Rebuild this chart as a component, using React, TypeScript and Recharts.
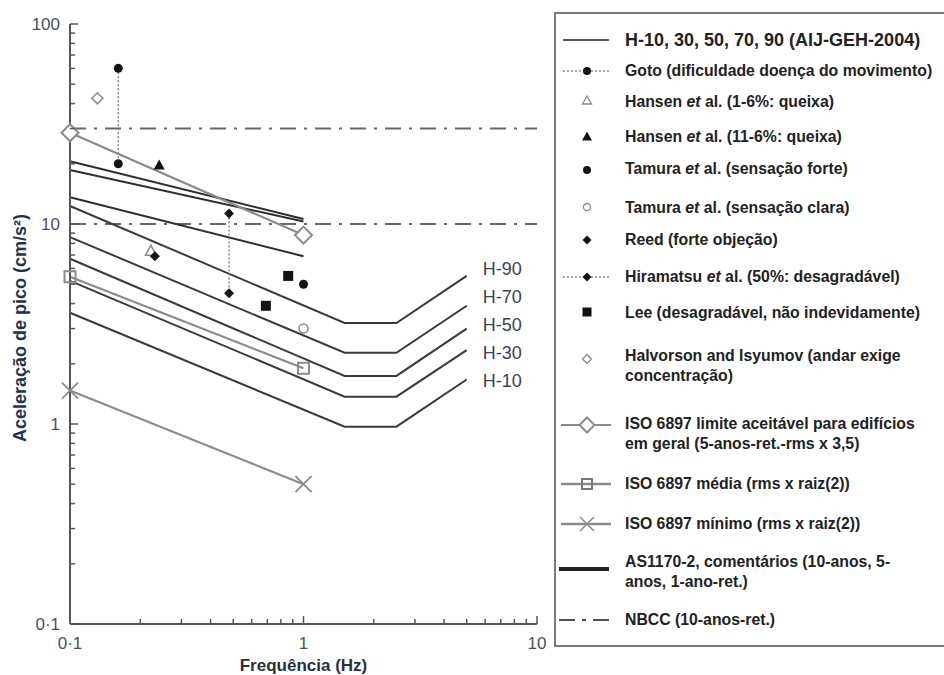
import {
  ComposedChart,
  Legend,
  Line,
  ReferenceLine,
  Scatter,
  XAxis,
  YAxis,
} from "recharts";

// AIJ-GEH-2004 curves: frequency breakpoints (Hz) and peak acceleration (cm/s²)
const hFreq = [0.1, 1.5, 2.5, 5];
const h10 = [3.6, 0.97, 0.97, 1.67];
const h30 = [5.2, 1.37, 1.37, 2.34];
const h50 = [6.7, 1.74, 1.74, 3.0];
const h70 = [8.6, 2.27, 2.27, 3.9];
const h90 = [12.3, 3.2, 3.2, 5.5];
const hNames = ["H-10", "H-30", "H-50", "H-70", "H-90"];

// straight criteria between 0.1 and 1 Hz
const shortFreq = [0.1, 1];
const as1170Ten = [20.6, 10.6];
const as1170Five = [18.6, 10.3];
const as1170One = [13.6, 6.9];
const isoLimit = [28.6, 8.8];
const isoMean = [5.45, 1.9];
const isoMin = [1.47, 0.5];

// NBCC horizontal limits
const nbccLevels = [30, 10];

// survey points
const gotoFreq = [0.161, 0.161];
const gotoAcc = [60, 20];
const hansenLowFreq = [0.222];
const hansenLowAcc = [7.3];
const hansenHighFreq = [0.241];
const hansenHighAcc = [19.6];
const tamuraStrongFreq = [1.0];
const tamuraStrongAcc = [5.0];
const tamuraClearFreq = [1.0];
const tamuraClearAcc = [3.0];
const reedFreq = [0.231];
const reedAcc = [6.9];
const hiramatsuFreq = [0.48, 0.48];
const hiramatsuAcc = [11.3, 4.5];
const leeFreq = [0.86, 0.69];
const leeAcc = [5.5, 3.9];
const halvorsonFreq = [0.131];
const halvorsonAcc = [42.5];

// axes
const xMajor = [0.1, 1, 10];
const yMajor = [0.1, 1, 10, 100];
const minorSteps = [2, 3, 4, 5, 6, 7, 8, 9];
const tickText: Record<string, string> = { "0.1": "0·1", "1": "1", "10": "10", "100": "100" };

const pts = (xs: number[], ys: number[]) => xs.map((x, i) => ({ x, y: ys[i] }));
const withMinors = (majors: number[]) => [
  ...majors,
  ...majors.slice(0, -1).flatMap((d) => minorSteps.map((m) => Number((d * m).toPrecision(3)))),
];

const xTicks = withMinors(xMajor);
const yTicks = withMinors(yMajor);

const hCurves = [h10, h30, h50, h70, h90];
const hLabelPts = hCurves.map((c, i) => ({ x: hFreq[hFreq.length - 1], y: c[c.length - 1], name: hNames[i] }));

const INK = "#141414";
const GRAY = "#8a8a8a";
const CURVE = "#3a3a3a";
const AXIS = "#555";
const FONT = "'Liberation Sans', Arial, sans-serif";
const TICK_GAP_Y = 10;
const TICK_GAP_X = 13;

const YTick = (props: any) => {
  const { x, y, payload } = props;
  const v = payload.value;
  const major = yMajor.includes(v);
  const ax = x + TICK_GAP_Y;
  return (
    <g>
      <line x1={ax} x2={ax + (major ? 8 : 5)} y1={y} y2={y} stroke={AXIS} strokeWidth={1.5} />
      {major && (
        <text x={x} y={y} dy="0.36em" textAnchor="end" fontFamily={FONT} fontSize={17} fill="#4a5060">
          {tickText[String(v)]}
        </text>
      )}
    </g>
  );
};

const XTick = (props: any) => {
  const { x, y, payload } = props;
  const v = payload.value;
  const major = xMajor.includes(v);
  const ay = y - TICK_GAP_X;
  return (
    <g>
      <line x1={x} x2={x} y1={ay} y2={ay - (major ? 8 : 5)} stroke={AXIS} strokeWidth={1.5} />
      {major && (
        <text x={x} y={y} dy="0.71em" textAnchor="middle" fontFamily={FONT} fontSize={17} fill="#4a5060">
          {tickText[String(v)]}
        </text>
      )}
    </g>
  );
};

const XTitle = (props: any) => {
  const { viewBox } = props;
  return (
    <text
      x={viewBox.x + viewBox.width / 2}
      y={viewBox.y + 47}
      textAnchor="middle"
      fontFamily={FONT}
      fontSize={17}
      fontWeight="bold"
      fill="#2b2f38"
    >
      Frequência (Hz)
    </text>
  );
};

const YTitle = (props: any) => {
  const { viewBox } = props;
  const cx = viewBox.x + 20;
  const cy = viewBox.y + viewBox.height / 2 + 4;
  return (
    <text
      x={cx}
      y={cy}
      transform={`rotate(-90 ${cx} ${cy})`}
      textAnchor="middle"
      dominantBaseline="central"
      fontFamily={FONT}
      fontSize={18}
      fontWeight="bold"
      fill="#24324f"
    >
      Aceleração de pico (cm/s²)
    </text>
  );
};

function Mark({ kind, cx, cy }: { kind: string; cx: number; cy: number }) {
  switch (kind) {
    case "dot":
      return <circle cx={cx} cy={cy} r={4.5} fill={INK} />;
    case "ring":
      return <circle cx={cx} cy={cy} r={4.5} fill="#fff" stroke={GRAY} strokeWidth={1.5} />;
    case "tri":
      return <polygon points={`${cx},${cy - 6} ${cx + 5.5},${cy + 4} ${cx - 5.5},${cy + 4}`} fill={INK} />;
    case "triOpen":
      return (
        <polygon
          points={`${cx},${cy - 6} ${cx + 5.5},${cy + 4} ${cx - 5.5},${cy + 4}`}
          fill="#fff"
          stroke={GRAY}
          strokeWidth={1.5}
        />
      );
    case "diamond":
      return <polygon points={`${cx},${cy - 5} ${cx + 5},${cy} ${cx},${cy + 5} ${cx - 5},${cy}`} fill={INK} />;
    case "diamondOpen":
      return (
        <polygon
          points={`${cx},${cy - 5.5} ${cx + 5.5},${cy} ${cx},${cy + 5.5} ${cx - 5.5},${cy}`}
          fill="#fff"
          stroke={GRAY}
          strokeWidth={1.5}
        />
      );
    case "square":
      return <rect x={cx - 5} y={cy - 5} width={10} height={10} fill={INK} />;
    case "bigDiamond":
      return (
        <polygon
          points={`${cx},${cy - 8.5} ${cx + 8.5},${cy} ${cx},${cy + 8.5} ${cx - 8.5},${cy}`}
          fill="#fff"
          stroke={GRAY}
          strokeWidth={2}
        />
      );
    case "openSquare":
      return <rect x={cx - 5.5} y={cy - 5.5} width={11} height={11} fill="none" stroke={GRAY} strokeWidth={2} />;
    case "cross":
      return (
        <path
          d={`M${cx - 8},${cy - 8}L${cx + 8},${cy + 8}M${cx - 8},${cy + 8}L${cx + 8},${cy - 8}`}
          stroke={GRAY}
          strokeWidth={1.8}
        />
      );
    default:
      return null;
  }
}

const markShape = (kind: string) => (p: any) => <Mark kind={kind} cx={p.cx} cy={p.cy} />;
const lineDot = (kind: string) => (p: any) => <Mark key={p.index} kind={kind} cx={p.cx} cy={p.cy} />;

const hLabelShift: Record<string, number> = { "H-90": -7, "H-70": -9, "H-50": -4, "H-30": 2, "H-10": 1 };
const HLabel = (p: any) => (
  <text
    x={p.cx + 16}
    y={p.cy + hLabelShift[p.payload.name]}
    dy="0.36em"
    fontFamily={FONT}
    fontSize={18}
    fill="#3c4252"
  >
    {p.payload.name}
  </text>
);

// legend
function Sym({ kind }: { kind: string }) {
  const c = 30;
  const m = 12;
  let body: any = null;
  switch (kind) {
    case "solid":
      body = <line x1={6} x2={52} y1={m} y2={m} stroke="#555" strokeWidth={2} />;
      break;
    case "gotoDots":
      body = (
        <>
          <line x1={6} x2={52} y1={m} y2={m} stroke={GRAY} strokeWidth={1.5} strokeDasharray="2 2" />
          <circle cx={c} cy={m} r={4} fill={INK} />
        </>
      );
      break;
    case "hiraDots":
      body = (
        <>
          <line x1={6} x2={52} y1={m} y2={m} stroke={GRAY} strokeWidth={1.5} strokeDasharray="2 2" />
          <polygon points={`${c},${m - 4.5} ${c + 4.5},${m} ${c},${m + 4.5} ${c - 4.5},${m}`} fill={INK} />
        </>
      );
      break;
    case "isoLimit":
      body = (
        <>
          <line x1={4} x2={54} y1={m} y2={m} stroke={GRAY} strokeWidth={2} />
          <polygon
            points={`${c},${m - 7.5} ${c + 7.5},${m} ${c},${m + 7.5} ${c - 7.5},${m}`}
            fill="#fff"
            stroke={GRAY}
            strokeWidth={2}
          />
        </>
      );
      break;
    case "isoMean":
      body = (
        <>
          <line x1={4} x2={54} y1={m} y2={m} stroke={GRAY} strokeWidth={2.5} />
          <rect x={c - 5} y={m - 5} width={10} height={10} fill="none" stroke="#777" strokeWidth={2} />
        </>
      );
      break;
    case "isoMin":
      body = (
        <>
          <line x1={4} x2={54} y1={m} y2={m} stroke={GRAY} strokeWidth={2.5} />
          <path d={`M${c - 7},${m - 7}L${c + 7},${m + 7}M${c - 7},${m + 7}L${c + 7},${m - 7}`} stroke={GRAY} strokeWidth={1.5} />
        </>
      );
      break;
    case "as":
      body = <line x1={2} x2={52} y1={m} y2={m} stroke="#222" strokeWidth={4} />;
      break;
    case "nbcc":
      body = <line x1={2} x2={54} y1={m} y2={m} stroke="#555" strokeWidth={2} strokeDasharray="16 7 4 7" />;
      break;
    case "triOpen":
      body = <polygon points={`${c},${m - 5} ${c + 4.5},${m + 3} ${c - 4.5},${m + 3}`} fill="#fff" stroke={GRAY} strokeWidth={1.3} />;
      break;
    case "tri":
      body = <polygon points={`${c},${m - 5.5} ${c + 5},${m + 3.5} ${c - 5},${m + 3.5}`} fill={INK} />;
      break;
    case "dot":
      body = <circle cx={c} cy={m} r={4} fill={INK} />;
      break;
    case "ring":
      body = <circle cx={c} cy={m} r={3.5} fill="#fff" stroke={GRAY} strokeWidth={1.3} />;
      break;
    case "diamond":
      body = <polygon points={`${c},${m - 4.5} ${c + 4.5},${m} ${c},${m + 4.5} ${c - 4.5},${m}`} fill={INK} />;
      break;
    case "diamondOpen":
      body = (
        <polygon
          points={`${c},${m - 4.5} ${c + 4.5},${m} ${c},${m + 4.5} ${c - 4.5},${m}`}
          fill="#fff"
          stroke={GRAY}
          strokeWidth={1.3}
        />
      );
      break;
    case "square":
      body = <rect x={c - 4.5} y={m - 4.5} width={9} height={9} fill={INK} />;
      break;
  }
  return (
    <svg width={60} height={24} style={{ position: "absolute", left: 3, top: 0 }}>
      {body}
    </svg>
  );
}

const legendRows = [
  { kind: "solid", lines: ["H-10, 30, 50, 70, 90 (AIJ-GEH-2004)"], cy: 28, sy: 28, big: true },
  { kind: "gotoDots", lines: ["Goto (dificuldade doença do movimento)"], cy: 59, sy: 59 },
  { kind: "triOpen", lines: ["Hansen et al. (1-6%: queixa)"], cy: 90, sy: 89 },
  { kind: "tri", lines: ["Hansen et al. (11-6%: queixa)"], cy: 125, sy: 125 },
  { kind: "dot", lines: ["Tamura et al. (sensação forte)"], cy: 157, sy: 158 },
  { kind: "ring", lines: ["Tamura et al. (sensação clara)"], cy: 196, sy: 195 },
  { kind: "diamond", lines: ["Reed (forte objeção)"], cy: 228, sy: 228 },
  { kind: "hiraDots", lines: ["Hiramatsu et al. (50%: desagradável)"], cy: 265, sy: 265 },
  { kind: "square", lines: ["Lee (desagradável, não indevidamente)"], cy: 301, sy: 300 },
  { kind: "diamondOpen", lines: ["Halvorson and Isyumov (andar exige", "concentração)"], cy: 344, sy: 347 },
  { kind: "isoLimit", lines: ["ISO 6897 limite aceitável para edifícios", "em geral (5-anos-ret.-rms x 3,5)"], cy: 412, sy: 413 },
  { kind: "isoMean", lines: ["ISO 6897 média (rms x raiz(2))"], cy: 472, sy: 472 },
  { kind: "isoMin", lines: ["ISO 6897 mínimo (rms x raiz(2))"], cy: 512, sy: 512 },
  { kind: "as", lines: ["AS1170-2, comentários (10-anos, 5-", "anos, 1-ano-ret.)"], cy: 550, sy: 557 },
  { kind: "nbcc", lines: ["NBCC (10-anos-ret.)"], cy: 608, sy: 608 },
];

const withItalic = (s: string) => {
  const parts = s.split("et al.");
  if (parts.length === 1) return s;
  return (
    <>
      {parts[0]}
      <i>et</i> al.{parts[1]}
    </>
  );
};

function LegendBox() {
  return (
    <div style={{ position: "relative", width: 400, height: 635, background: "#fff", fontFamily: FONT }}>
      <div
        style={{
          position: "absolute",
          inset: 0,
          borderLeft: "2px solid #7a7a7a",
          borderTop: "2px solid #7a7a7a",
          borderBottom: "2px solid #7a7a7a",
        }}
      />
      {legendRows.map((r) => (
        <div key={r.lines[0]}>
          <div style={{ position: "absolute", left: 0, top: r.sy - 12, width: 66, height: 24 }}>
            <Sym kind={r.kind} />
          </div>
          <div
            style={{
              position: "absolute",
              left: 71,
              top: r.cy - 10,
              lineHeight: "20px",
              fontSize: r.big ? 18 : 15.8,
              fontWeight: "bold",
              color: "#222",
              whiteSpace: "nowrap",
            }}
          >
            {r.lines.map((t) => (
              <div key={t}>{withItalic(t)}</div>
            ))}
          </div>
        </div>
      ))}
    </div>
  );
}

export default function App() {
  return (
    <div style={{ position: "absolute", left: 0, top: 0, width: 944, height: 675, overflow: "hidden", background: "#fff" }}>
      <ComposedChart width={944} height={675} margin={{ top: 24, right: 407, bottom: 0, left: 0 }}>
        <XAxis
          type="number"
          dataKey="x"
          scale="log"
          domain={[0.1, 10]}
          ticks={xTicks}
          interval={0}
          height={51}
          tickSize={0}
          tickMargin={TICK_GAP_X}
          tick={<XTick />}
          tickLine={false}
          axisLine={{ stroke: AXIS, strokeWidth: 2 }}
          label={<XTitle />}
        />
        <YAxis
          type="number"
          dataKey="y"
          scale="log"
          domain={[0.1, 100]}
          ticks={yTicks}
          interval={0}
          width={70}
          tickSize={0}
          tickMargin={TICK_GAP_Y}
          tick={<YTick />}
          tickLine={false}
          axisLine={{ stroke: AXIS, strokeWidth: 2 }}
          label={<YTitle />}
        />
        <Legend
          layout="vertical"
          align="center"
          verticalAlign="middle"
          wrapperStyle={{ left: 554, top: 12, width: 400, height: 635 }}
          content={() => <LegendBox />}
        />

        {nbccLevels.map((v) => (
          <ReferenceLine key={v} y={v} stroke="#666" strokeWidth={2} strokeDasharray="16 8 3 8" />
        ))}

        {hCurves.map((c, i) => (
          <Line
            key={hNames[i]}
            data={pts(hFreq, c)}
            dataKey="y"
            type="linear"
            stroke={CURVE}
            strokeWidth={2}
            dot={false}
            activeDot={false}
            isAnimationActive={false}
          />
        ))}

        {[as1170Ten, as1170Five, as1170One].map((c, i) => (
          <Line
            key={`as${i}`}
            data={pts(shortFreq, c)}
            dataKey="y"
            type="linear"
            stroke="#2e2e2e"
            strokeWidth={2}
            dot={false}
            activeDot={false}
            isAnimationActive={false}
          />
        ))}

        <Line data={pts(shortFreq, isoMin)} dataKey="y" type="linear" stroke={GRAY} strokeWidth={2.2} dot={lineDot("cross")} activeDot={false} isAnimationActive={false} />
        <Line data={pts(shortFreq, isoMean)} dataKey="y" type="linear" stroke={GRAY} strokeWidth={2.2} dot={lineDot("openSquare")} activeDot={false} isAnimationActive={false} />
        <Line data={pts(shortFreq, isoLimit)} dataKey="y" type="linear" stroke={GRAY} strokeWidth={2.2} dot={lineDot("bigDiamond")} activeDot={false} isAnimationActive={false} />

        <Scatter data={pts(gotoFreq, gotoAcc)} line={{ stroke: "#777", strokeWidth: 1.3, strokeDasharray: "2 2" }} shape={markShape("dot")} isAnimationActive={false} />
        <Scatter data={pts(hiramatsuFreq, hiramatsuAcc)} line={{ stroke: "#777", strokeWidth: 1.3, strokeDasharray: "2 2" }} shape={markShape("diamond")} isAnimationActive={false} />
        <Scatter data={pts(hansenLowFreq, hansenLowAcc)} shape={markShape("triOpen")} isAnimationActive={false} />
        <Scatter data={pts(hansenHighFreq, hansenHighAcc)} shape={markShape("tri")} isAnimationActive={false} />
        <Scatter data={pts(tamuraStrongFreq, tamuraStrongAcc)} shape={markShape("dot")} isAnimationActive={false} />
        <Scatter data={pts(tamuraClearFreq, tamuraClearAcc)} shape={markShape("ring")} isAnimationActive={false} />
        <Scatter data={pts(reedFreq, reedAcc)} shape={markShape("diamond")} isAnimationActive={false} />
        <Scatter data={pts(leeFreq, leeAcc)} shape={markShape("square")} isAnimationActive={false} />
        <Scatter data={pts(halvorsonFreq, halvorsonAcc)} shape={markShape("diamondOpen")} isAnimationActive={false} />

        <Scatter data={hLabelPts} shape={HLabel} isAnimationActive={false} />
      </ComposedChart>
    </div>
  );
}
